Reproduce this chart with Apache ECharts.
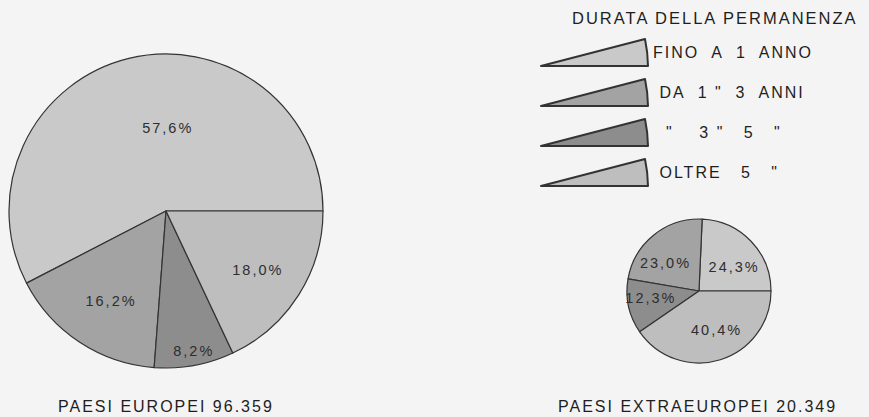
<!DOCTYPE html>
<html>
<head>
<meta charset="utf-8">
<script src="https://cdn.jsdelivr.net/npm/echarts@6/dist/echarts.min.js"></script>
<style>
  html, body { margin: 0; padding: 0; background: #f4f4f4; }
  #chart { width: 869px; height: 417px; }
  #chart text { letter-spacing: 2px; }
</style>
</head>
<body>
<div id="chart"></div>
<script>
// ---- data ----
const categories = ['FINO  A  1  ANNO', ' DA  1 "  3  ANNI', '  "    3 "   5   "', ' OLTRE   5   "'];
const europeiValues = [57.6, 16.2, 8.2, 18.0];
const extraValues = [24.3, 23.0, 12.3, 40.4];
const legendTitle = 'DURATA DELLA PERMANENZA';
const europeiCaption = 'PAESI EUROPEI 96.359';
const extraCaption = 'PAESI EXTRAEUROPEI 20.349';

// ---- styles / positions ----
const sliceColors = ['#c9c9c9', '#a3a3a3', '#8d8d8d', '#bebebe'];
const europeiLabelNudge = [[21, -4], [-10, 22], [13, 60], [23, 15]];
const extraLabelNudge = [[7, 3], [-9, 2], [-10, -1], [6, 2]];

const fmt = p => p.value.toFixed(1).replace('.', ',') + '%';

function pieData(values) {
  return values.map((v, i) => ({
    name: categories[i],
    value: v,
    itemStyle: { color: sliceColors[i] }
  }));
}

function pieSeries(name, values, center, radius, nudge) {
  return {
    type: 'pie',
    name: name,
    center: center,
    radius: radius,
    startAngle: 0,
    clockwise: false,
    animation: false,
    avoidLabelOverlap: false,
    itemStyle: { borderColor: '#333', borderWidth: 1.2 },
    label: {
      show: true,
      position: 'inside',
      formatter: fmt,
      color: '#2e2e2e',
      fontSize: 14.5,
      fontFamily: 'Liberation Sans, Arial, sans-serif'
    },
    labelLine: { show: false },
    emphasis: { disabled: true },
    labelLayout: params => ({ dx: nudge[params.dataIndex][0], dy: nudge[params.dataIndex][1] }),
    data: pieData(values)
  };
}

const chart = echarts.init(document.getElementById('chart'), null, { renderer: 'svg' });
chart.setOption({
  backgroundColor: '#f4f4f4',
  textStyle: { fontFamily: 'Liberation Sans, Arial, sans-serif' },
  title: [
    { text: legendTitle, left: 572, top: 9, padding: 0,
      textStyle: { fontSize: 16.5, fontWeight: 'normal', color: '#1e1e1e' } },
    { text: europeiCaption, left: 58, top: 398, padding: 0,
      textStyle: { fontSize: 16, fontWeight: 'normal', color: '#1e1e1e' } },
    { text: extraCaption, left: 558, top: 398, padding: 0,
      textStyle: { fontSize: 16, fontWeight: 'normal', color: '#1e1e1e' } }
  ],
  legend: {
    orient: 'vertical',
    left: 540,
    top: 38,
    padding: 0,
    itemWidth: 107,
    itemHeight: 27,
    itemGap: 11,
    icon: 'path://M0,27 L104,0 A140,140 0 0 1 107,27 Z',
    data: categories,
    textStyle: { fontSize: 16, color: '#1e1e1e' },
    selectedMode: false
  },
  series: [
    pieSeries('PAESI EUROPEI', europeiValues, [166, 211], 157, europeiLabelNudge),
    pieSeries('PAESI EXTRAEUROPEI', extraValues, [699, 291], 72, extraLabelNudge)
  ]
});
</script>
</body>
</html>
